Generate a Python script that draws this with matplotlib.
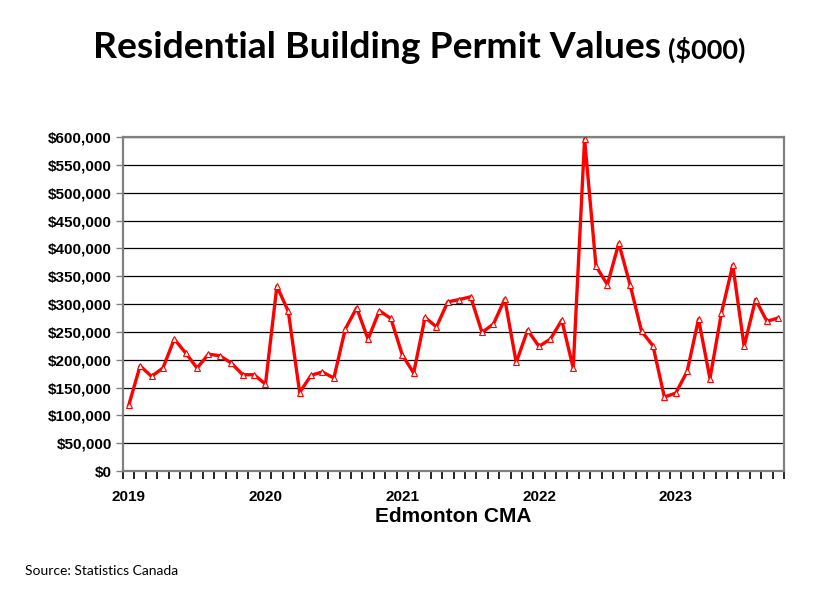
import numpy as np
import matplotlib
matplotlib.use("Agg")
import matplotlib.pyplot as plt
from matplotlib.ticker import FuncFormatter

# monthly permit values ($000), Jan 2019 - Oct 2023
v2019 = [118, 189, 170, 185, 237, 212, 185, 210, 207, 194, 173, 173]
v2020 = [156, 332, 287, 141, 172, 178, 167, 255, 293, 237, 288, 274]
v2021 = [209, 176, 276, 259, 304, 308, 313, 249, 264, 309, 195, 253]
v2022 = [224, 237, 271, 185, 596, 368, 335, 409, 334, 251, 225, 133]
v2023 = [140, 179, 273, 166, 283, 370, 224, 308, 269, 275]
years = ["2019", "2020", "2021", "2022", "2023"]

values = np.array(v2019 + v2020 + v2021 + v2022 + v2023) * 1000
x = np.arange(len(values))

fig = plt.figure(figsize=(8.38, 5.96), dpi=100)
ax = fig.add_axes([0.1468, 0.2097, 0.7888, 0.5604])

ax.plot(x, values, color="#ff0000", lw=2.4, marker="^", ms=4.5,
        mfc="white", mec="#ff0000", mew=0.8, zorder=3)

ax.set_xlim(-0.5, len(values) - 0.5)
ax.set_ylim(0, 600000)
ax.set_yticks(np.arange(0, 600001, 50000))
ax.yaxis.set_major_formatter(FuncFormatter(lambda v, p: f"${v:,.0f}"))
ax.grid(axis="y", color="black", lw=0.9)
ax.set_axisbelow(True)

# year labels under January, tick marks at month boundaries
ax.set_xticks([i * 12 for i in range(len(years))])
ax.set_xticklabels(years)
ax.set_xticks(np.arange(-0.5, len(values)), minor=True)
ax.tick_params(axis="x", which="major", length=0, pad=14)
ax.tick_params(axis="x", which="minor", length=6, width=1.2, color="black")
ax.tick_params(axis="y", length=5, width=1, color="#808080", pad=3)

for lab in ax.get_xticklabels() + ax.get_yticklabels():
    lab.set_fontfamily("Liberation Sans")
    lab.set_fontweight("bold")
    lab.set_fontsize(11)

for s in ax.spines.values():
    s.set_color("#808080")
    s.set_linewidth(1.6)

ax.set_xlabel("Edmonton CMA", fontfamily="Liberation Sans", fontweight="bold",
              fontsize=15, labelpad=2)

fig.text(0.111, 0.921, "Residential Building Permit Values", fontfamily="Lato",
         fontweight="bold", fontsize=26.8, va="center", ha="left")
fig.text(0.797, 0.917, "($000)", fontfamily="Lato", fontweight="bold",
         fontsize=19.5, va="center", ha="left")

fig.text(0.03, 0.042, "Source: Statistics Canada", fontfamily="Lato",
         fontsize=10, va="center", ha="left")

fig.savefig("out.png", dpi=100)
